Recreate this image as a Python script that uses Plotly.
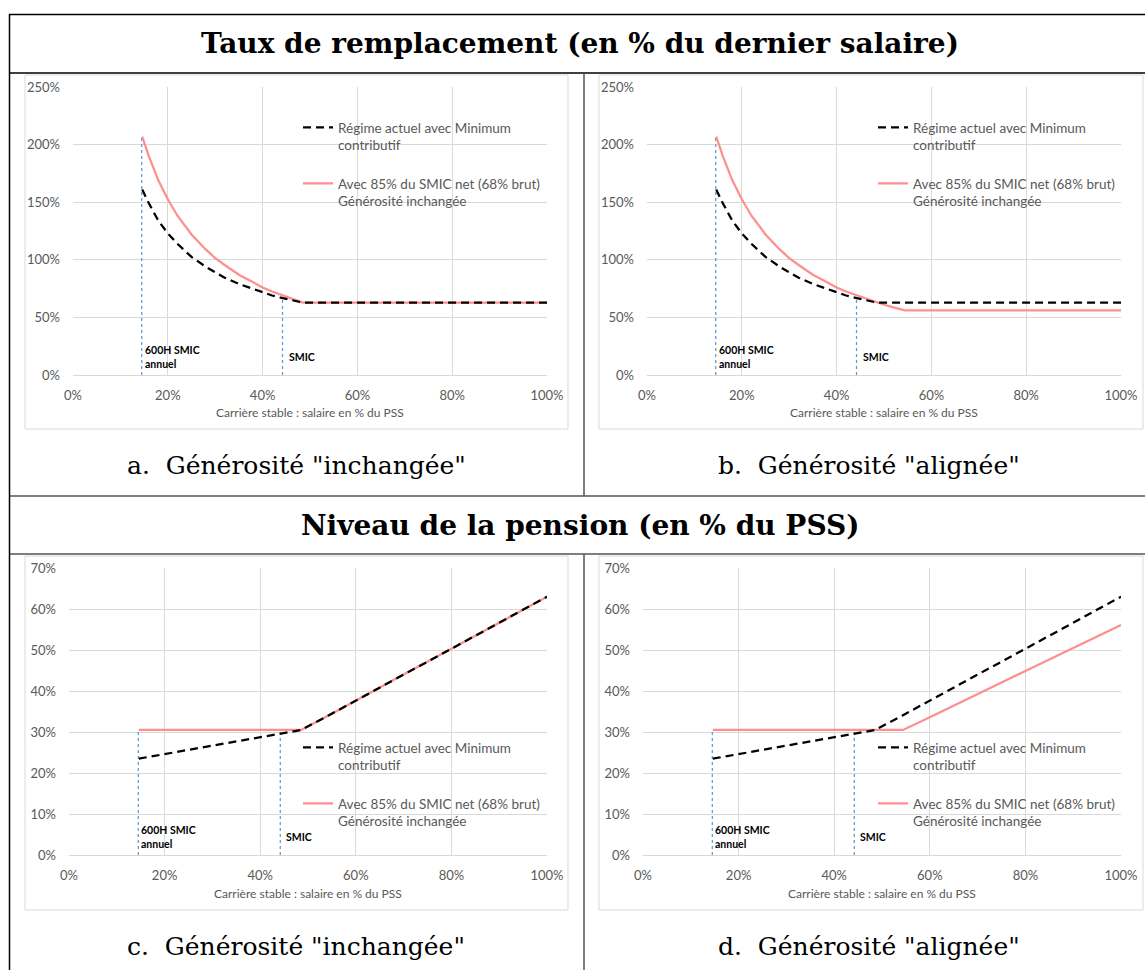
import plotly.graph_objects as go

W, H = 1145, 970

# ---------------- data ----------------
# Replacement rate charts (a, b): salary in % of PSS vs replacement rate in %
sal_tr = [14.6, 16, 18, 20, 22, 25, 28, 30, 32, 35, 38, 40, 42, 44, 46, 48.5, 50, 52, 54.4, 60, 70, 80, 90, 100]
tr_actuel = [161, 149, 134, 123, 114, 102.5, 94, 89, 84.5, 79, 74.5, 71.5, 69, 67, 65, 62.8,
             62.8, 62.8, 62.8, 62.8, 62.8, 62.8, 62.8, 62.8]
tr_inchangee = [207, 190, 169, 152.5, 138.5, 122, 109, 101.5, 95.5, 87, 80.5, 76, 72.5, 69.5, 66.5, 62.8,
                62.8, 62.8, 62.8, 62.8, 62.8, 62.8, 62.8, 62.8]
tr_alignee = [207, 190, 169, 152.5, 138.5, 122, 109, 101.5, 95.5, 87, 80.5, 76, 72.5, 69.5, 66.5, 62.9,
              61, 58.7, 56.1, 56.1, 56.1, 56.1, 56.1, 56.1]

# Pension level charts (c, d): salary in % of PSS vs pension in % of PSS
sal_pens = [14.6, 20, 30, 40, 48.6, 54.4, 60, 70, 80, 90, 100]
pens_actuel = [23.5, 24.6, 26.6, 28.7, 30.5, 34.1, 37.7, 44.0, 50.3, 56.7, 63.0]
pens_inchangee = [30.5, 30.5, 30.5, 30.5, 30.5, 34.1, 37.7, 44.0, 50.3, 56.7, 63.0]
pens_alignee = [30.5, 30.5, 30.5, 30.5, 30.5, 30.5, 33.6, 39.3, 44.9, 50.5, 56.1]

# Reference vertical markers
ref_labels = ["600H SMIC<br>annuel", "SMIC"]
ref_x = [14.5, 44.2]
ref_top_tr = [208, 67]
ref_top_pens = [30.5, 30.5]

# Texts
titles = ["Taux de remplacement (en % du dernier salaire)", "Niveau de la pension (en % du PSS)"]
captions = ['a.  Générosité "inchangée"', 'b.  Générosité "alignée"',
            'c.  Générosité "inchangée"', 'd.  Générosité "alignée"']
name_actuel = "Régime actuel avec Minimum<br>contributif"
name_85 = "Avec 85% du SMIC net (68% brut)<br>Générosité inchangée"
x_title = "Carrière stable : salaire en % du PSS"
x_ticks = [0, 20, 40, 60, 80, 100]
tr_ticks = [0, 50, 100, 150, 200, 250]
pens_ticks = [0, 10, 20, 30, 40, 50, 60, 70]

# ---------------- style ----------------
BLACK = "#000000"
PINK = "#FF8F8F"
BLUE = "#5B9BD5"
GRID = "#D9D9D9"
TXT = "#595959"
SERIF = "DejaVu Serif"
SANS = "Lato"


def px(x):
    return x / W


def py(y):
    return 1 - y / H


panels = [
    dict(ax="", sal=sal_tr, black=tr_actuel, pink=tr_inchangee, top=ref_top_tr, ticks=tr_ticks, rng=[0, 250],
         xd=[73, 547], yd=[375, 87], leg=(298, 112), box=(25, 75, 568, 429)),
    dict(ax="2", sal=sal_tr, black=tr_actuel, pink=tr_alignee, top=ref_top_tr, ticks=tr_ticks, rng=[0, 250],
         xd=[647, 1121], yd=[375, 87], leg=(873, 112), box=(599, 75, 1143, 429)),
    dict(ax="3", sal=sal_pens, black=pens_actuel, pink=pens_inchangee, top=ref_top_pens, ticks=pens_ticks, rng=[0, 70],
         xd=[69, 547], yd=[855, 568], leg=(298, 732), box=(25, 556, 568, 910)),
    dict(ax="4", sal=sal_pens, black=pens_actuel, pink=pens_alignee, top=ref_top_pens, ticks=pens_ticks, rng=[0, 70],
         xd=[643, 1121], yd=[855, 568], leg=(873, 732), box=(599, 556, 1143, 910)),
]

fig = go.Figure()
layout = {}
annotations = []
shapes = []

for i, p in enumerate(panels):
    xa = "x" + p["ax"]
    ya = "y" + p["ax"]
    leg = "legend" + p["ax"]
    # reference dotted lines
    for rx, rt in zip(ref_x, p["top"]):
        fig.add_trace(go.Scatter(x=[rx, rx], y=[0, rt], mode="lines", xaxis=xa, yaxis=ya,
                                 line=dict(color=BLUE, width=1.25, dash="dot"), showlegend=False,
                                 hoverinfo="skip"))
    fig.add_trace(go.Scatter(x=p["sal"], y=p["pink"], mode="lines", name=name_85, xaxis=xa, yaxis=ya,
                             line=dict(color=PINK, width=2.25), legend=leg, legendrank=2,
                             legendgroup="g85" + p["ax"]))
    fig.add_trace(go.Scatter(x=p["sal"], y=p["black"], mode="lines", name=name_actuel, xaxis=xa, yaxis=ya,
                             line=dict(color=BLACK, width=2.25, dash="8px,5px"), legend=leg, legendrank=1,
                             legendgroup="gact" + p["ax"]))

    layout["xaxis" + p["ax"]] = dict(
        domain=[px(p["xd"][0]), px(p["xd"][1])], anchor=ya, range=[0, 100],
        tickvals=x_ticks, ticktext=[f"{v}%" for v in x_ticks],
        showgrid=True, gridcolor=GRID, gridwidth=1, zeroline=False,
        showline=True, linecolor=GRID, linewidth=1, mirror=False,
        ticks="", ticklabelstandoff=8, automargin=False,
        tickfont=dict(family=SANS, size=13, color=TXT),
    )
    layout["yaxis" + p["ax"]] = dict(
        domain=[py(p["yd"][0]), py(p["yd"][1])], anchor=xa, range=p["rng"],
        tickvals=p["ticks"], ticktext=[f"{v}%" for v in p["ticks"]],
        showgrid=True, gridcolor=GRID, gridwidth=1, zeroline=False, showline=False,
        ticks="", ticklabelstandoff=12, automargin=False,
        tickfont=dict(family=SANS, size=13, color=TXT),
    )
    layout[leg] = dict(
        x=px(p["leg"][0]), y=py(p["leg"][1]), xanchor="left", yanchor="top",
        xref="paper", yref="paper", valign="top", tracegroupgap=18,
        bgcolor="rgba(0,0,0,0)", borderwidth=0,
        font=dict(family=SANS, size=13.5, color=TXT),
    )
    # x axis title
    annotations.append(dict(
        x=0.5, y=0, xref=xa + " domain", yref=ya + " domain", text=x_title, showarrow=False,
        xanchor="center", yanchor="middle", yshift=-38,
        font=dict(family=SANS, size=12, color=TXT),
    ))
    # labels for reference lines
    for k, (rx, lab) in enumerate(zip(ref_x, ref_labels)):
        annotations.append(dict(
            x=rx, y=0.064, xref=xa, yref=ya + " domain", text=lab, showarrow=False,
            xanchor="left", yanchor="middle", align="left", xshift=1 if k == 0 else 4,
            font=dict(family=SANS, size=10.5, color="#000000", weight="bold"),
        ))
    # chart area border
    x0, y0, x1, y1 = p["box"]
    shapes.append(dict(type="rect", xref="paper", yref="paper", x0=px(x0), x1=px(x1), y0=py(y1), y1=py(y0),
                       line=dict(color=GRID, width=1), fillcolor="rgba(0,0,0,0)", layer="below"))

# Titles and captions
for t, ty in zip(titles, [44, 525]):
    annotations.append(dict(x=px(580), y=py(ty), xref="paper", yref="paper", text="<b>" + t + "</b>",
                            xanchor="center", yanchor="middle",
                            showarrow=False, font=dict(family=SERIF, size=28, color="#000")))
cap_pos = [(296, 465), (869, 465), (296, 946), (869, 946)]
for c, (cx, cy) in zip(captions, cap_pos):
    annotations.append(dict(x=px(cx), y=py(cy), xref="paper", yref="paper", text=c,
                            xanchor="center", yanchor="middle",
                            showarrow=False, font=dict(family=SERIF, size=25, color="#000")))


# Table lines
def hline(y, x0, x1, color, w):
    shapes.append(dict(type="line", xref="paper", yref="paper", x0=px(x0), x1=px(x1), y0=py(y), y1=py(y),
                       line=dict(color=color, width=w)))


def vline(x, y0, y1, color, w):
    shapes.append(dict(type="line", xref="paper", yref="paper", x0=px(x), x1=px(x), y0=py(y0), y1=py(y1),
                       line=dict(color=color, width=w)))


hline(14.5, 9, 1145, "#000", 1.5)
hline(73, 9, 1145, "#000", 1.5)
hline(496, 9, 1145, "#555", 1.5)
hline(554, 9, 1145, "#555", 1.5)
vline(9.5, 14, 970, "#000", 1.5)
vline(584, 73, 496, "#555", 1.5)
vline(584, 554, 970, "#555", 1.5)

layout.update(dict(
    width=W, height=H, margin=dict(l=0, r=0, t=0, b=0, autoexpand=False),
    paper_bgcolor="white", plot_bgcolor="white",
    annotations=annotations, shapes=shapes,
))
fig.update_layout(**layout)
fig.write_html("out.html", config={"displayModeBar": False},
               post_script="document.body.style.margin='0';document.body.style.overflow='hidden';")
